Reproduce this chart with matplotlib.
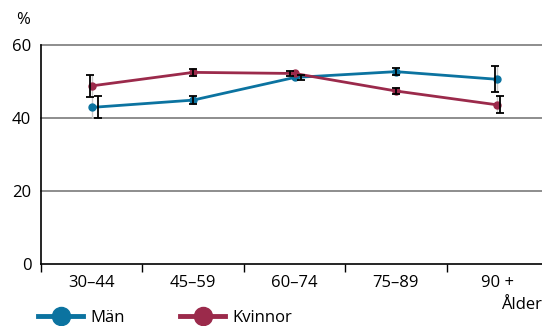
import matplotlib.pyplot as plt
from matplotlib.lines import Line2D

# Andel (%) per åldersgrupp, med konfidensintervall
aldersgrupper = ['30–44', '45–59', '60–74', '75–89', '90 +']
man = [42.9, 44.9, 51.1, 52.7, 50.6]
man_fel = [3.0, 1.2, 0.8, 0.9, 3.6]
kvinnor = [48.8, 52.5, 52.2, 47.4, 43.6]
kvinnor_fel = [3.1, 1.0, 0.7, 0.8, 2.3]
y_ticks = [0, 20, 40, 60]

BLA = '#0b73a0'
ROD = '#9b2a4b'
GRID = '#7a7a7a'

plt.rcParams['font.family'] = ['Open Sans', 'DejaVu Sans']

fig = plt.figure(figsize=(5.42, 3.26), dpi=100)
# axeln fortsätter lite utanför högerkanten
ax = fig.add_axes([41 / 542, 1 - 264 / 326, 507 / 542, 219 / 326])

x = list(range(len(aldersgrupper)))
# små förskjutningar så att felstaplarna inte hamnar exakt på punkten
skift_man = [0.06, 0.0, 0.06, 0.0, -0.02]
skift_kv = [-0.02, 0.0, -0.04, 0.0, 0.03]

for serie, fel, skift, farg in [(man, man_fel, skift_man, BLA),
                                (kvinnor, kvinnor_fel, skift_kv, ROD)]:
    ax.plot(x, serie, color=farg, lw=2, marker='o', ms=5, zorder=3)
    ax.errorbar(x, serie, yerr=fel, fmt='none', ecolor='#c8c8c8',
                elinewidth=1, capsize=0, zorder=2)
    ax.errorbar([xi + s for xi, s in zip(x, skift)], serie, yerr=fel,
                fmt='none', ecolor='black', elinewidth=1.3, capsize=3,
                capthick=1.3, zorder=4)

ax.set_xlim(-0.5, len(aldersgrupper) - 0.5)
ax.set_ylim(0, 60)
ax.set_yticks(y_ticks)
ax.set_yticklabels([str(v) for v in y_ticks], fontsize=12)
ax.tick_params(axis='y', length=0, pad=7)
for v in y_ticks[1:]:
    ax.axhline(v, color=GRID, lw=1.2, zorder=1, clip_on=False)

ax.set_xticks(x)
ax.set_xticklabels(aldersgrupper, fontsize=12)
ax.tick_params(axis='x', length=0, pad=8)
ax.set_xticks([i - 0.5 for i in range(len(aldersgrupper) + 1)], minor=True)
ax.tick_params(axis='x', which='minor', length=6, width=1, color='black')

for s in ['top', 'right']:
    ax.spines[s].set_visible(False)
ax.spines['left'].set_color('black')
ax.spines['bottom'].set_color('black')
ax.spines['left'].set_linewidth(1.2)
ax.spines['bottom'].set_linewidth(1.2)

fig.text(23 / 542, 1 - 20 / 326, '%', fontsize=12, ha='center', va='center')
fig.text(542 / 542, 1 - 305 / 326, 'Ålder', fontsize=12, ha='right', va='center')

handles = [Line2D([], [], color=BLA, lw=3.5, marker='o', ms=13),
           Line2D([], [], color=ROD, lw=3.5, marker='o', ms=13)]
fig.legend(handles, ['Män', 'Kvinnor'], loc='center left',
           bbox_to_anchor=(38 / 542, 1 - 318 / 326), ncol=2, frameon=False,
           fontsize=12, handlelength=2.7, handletextpad=0.45, columnspacing=3.3,
           borderaxespad=0, borderpad=0)

fig.savefig('out.png', dpi=100)
